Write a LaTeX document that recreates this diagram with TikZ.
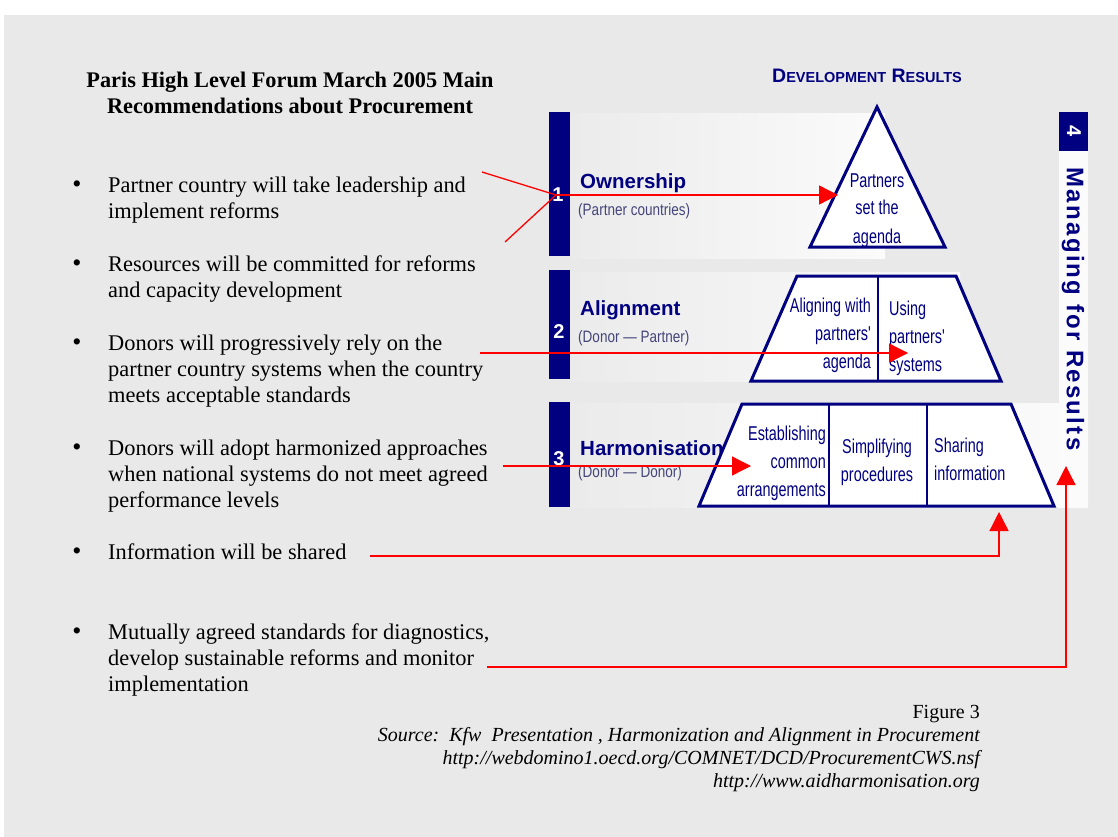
\documentclass[tikz,border=0pt]{standalone}
\usepackage{fontspec}
\setmainfont{Liberation Serif}
\newfontfamily\arialf{Liberation Sans}
\newfontfamily\narrowf[FakeStretch=0.82]{Liberation Sans}
\newfontfamily\cellf[FakeStretch=0.72]{Liberation Sans}
\newfontfamily\spacedf[LetterSpace=9.5]{Liberation Sans}
\usetikzlibrary{arrows.meta}
\definecolor{bg}{HTML}{E9E9E9}
\definecolor{navyc}{HTML}{000080}
\definecolor{subc}{HTML}{45457A}
\definecolor{redc}{HTML}{FF0000}
\definecolor{bandl}{HTML}{EBEBEB}
\definecolor{bandr}{HTML}{FBFBFB}
\newcommand{\lftlines}[1]{\begin{tabular}[t]{@{}l@{}}#1\end{tabular}}
\newcommand{\rgtlines}[1]{\begin{tabular}[t]{@{}r@{}}#1\end{tabular}}
\newcommand{\ctrlines}[1]{\begin{tabular}[t]{@{}c@{}}#1\end{tabular}}
\begin{document}
\begin{tikzpicture}[x=1pt,y=-1pt,
  body/.style={anchor=base west,inner sep=0pt,font=\fontsize{22.4}{26}\selectfont},
  bul/.style={anchor=base,inner sep=0pt,font=\fontsize{26}{26}\selectfont},
  src/.style={anchor=base east,inner sep=0pt,font=\fontsize{20}{23}\selectfont\itshape},
  lvl/.style={anchor=base west,inner sep=0pt,text=navyc,font=\arialf\bfseries\fontsize{20.5}{24}\selectfont},
  sublvl/.style={anchor=base west,inner sep=0pt,text=subc,font=\narrowf\fontsize{16.5}{20}\selectfont},
  num/.style={anchor=base,inner sep=0pt,text=white,font=\arialf\bfseries\fontsize{20}{24}\selectfont},
  cell/.style={inner sep=0pt,text=navyc,font=\cellf\fontsize{20}{28}\selectfont},
  pyr/.style={draw=navyc,line width=3pt,fill=white,line join=miter},
  divthin/.style={draw=navyc,line width=1.6pt},
  divthick/.style={draw=navyc,line width=2.6pt},
  arr/.style={draw=redc,line width=1.3pt,-{Triangle[length=19pt,width=19pt]}},
  rline/.style={draw=redc,line width=1.3pt}]
\useasboundingbox (0,0) rectangle (1118,837);
\fill[bg] (4,15) rectangle (1118,837);

% title
\node (title) [anchor=base,inner sep=0pt,font=\bfseries\fontsize{22.3}{26}\selectfont] at (290,88)
  {\ctrlines{Paris High Level Forum March 2005 Main\\Recommendations about Procurement}};

% bullets
\node (d1) [bul] at (77,193) {\textbullet};
\node (t1) [body] at (108,193) {\lftlines{Partner country will take leadership and\\implement reforms}};
\node (d2) [bul] at (77,271) {\textbullet};
\node (t2) [body] at (108,271) {\lftlines{Resources will be committed for reforms\\and capacity development}};
\node (d3) [bul] at (77,350) {\textbullet};
\node (t3) [body] at (108,350) {\lftlines{Donors will progressively rely on the\\partner country systems when the country\\meets acceptable standards}};
\node (d4) [bul] at (77,455) {\textbullet};
\node (t4) [body] at (108,455) {\lftlines{Donors will adopt harmonized approaches\\when national systems do not meet agreed\\performance levels}};
\node (d5) [bul] at (77,559) {\textbullet};
\node (t5) [body] at (108,559) {Information will be shared};
\node (d6) [bul] at (77,639) {\textbullet};
\node (t6) [body] at (108,639) {\lftlines{Mutually agreed standards for diagnostics,\\develop sustainable reforms and monitor\\implementation}};

% source
\node (fig) [anchor=base east,inner sep=0pt,font=\fontsize{20}{23}\selectfont] at (980,718) {Figure 3};
\node (src) [src] at (980,741) {\rgtlines{Source:\ \ Kfw\ \ Presentation , Harmonization and Alignment in Procurement\\http://webdomino1.oecd.org/COMNET/DCD/ProcurementCWS.nsf\\http://www.aidharmonisation.org}};

% header
\node (dev) [anchor=base,inner sep=0pt,text=navyc,font=\arialf\bfseries\fontsize{19.5}{22}\selectfont] at (867,83)
  {D{\fontsize{14.5}{16}\selectfont EVELOPMENT} R{\fontsize{14.5}{16}\selectfont ESULTS}};

% bands
\shade[left color=bandl,right color=bandr] (570,114) rectangle (885,258);
\shade[left color=bandl,right color=bandr] (570,272) rectangle (960,381);
\shade[left color=bandl,right color=bandr] (570,403) rectangle (1088,507);
\fill[bandr] (1059,112) rectangle (1088,508);
\fill[navyc] (549,112) rectangle (570,256);
\fill[navyc] (549,270) rectangle (570,379);
\fill[navyc] (549,402) rectangle (570,507);
\fill[navyc] (1059,112) rectangle (1088,151);

\node (n1) [num] at (558,201) {1};
\node (n2) [num] at (559,338) {2};
\node (n3) [num] at (559,465) {3};
\node (n4) [num,anchor=center,rotate=-90] at (1074,131) {4};
\node (mfr) [inner sep=0pt,text=navyc,rotate=-90,font=\spacedf\bfseries\fontsize{24}{26}\selectfont] at (1073,309) {Managing for Results};

\node (own) [lvl] at (580,189) {Ownership};
\node (ownsub) [sublvl] at (578,215) {(Partner countries)};
\node (ali) [lvl] at (580,315) {Alignment};
\node (alisub) [sublvl] at (578,342) {(Donor — Partner)};
\node (har) [lvl] at (580,455) {Harmonisation};
\node (harsub) [sublvl] at (578,477) {(Donor — Donor)};

% pyramid
\draw[pyr] (877,107) -- (945,247) -- (810,247) -- cycle;
\draw[pyr] (797,276) -- (956,276) -- (1001,381) -- (751,381) -- cycle;
\draw[divthin] (878,276) -- (878,381);
\draw[pyr] (742,404) -- (1011,404) -- (1054,506) -- (699,506) -- cycle;
\draw[divthick] (829,404) -- (829,506);
\draw[divthin] (927,404) -- (927,506);

\node (c1) [cell,anchor=base] at (877,187) {\ctrlines{Partners\\set the\\agenda}};
\node (c2a) [cell,anchor=base east] at (871,312) {\rgtlines{Aligning with\\partners'\\agenda}};
\node (c2b) [cell,anchor=base west] at (889,315) {\lftlines{Using\\partners'\\systems}};
\node (c3a) [cell,anchor=base east] at (826,440) {\rgtlines{Establishing\\common\\arrangements}};
\node (c3b) [cell,anchor=base] at (877,453) {\ctrlines{Simplifying\\procedures}};
\node (c3c) [cell,anchor=base west] at (934,452) {\lftlines{Sharing\\information}};

% arrows
\coordinate (a1u) at (482,172);
\coordinate (a1l) at (505,242);
\coordinate (a1j) at (556,195);
\coordinate (a1t) at (838,195);
\coordinate (a2s) at (480,353);
\coordinate (a2t) at (908,353);
\coordinate (a3s) at (503,466);
\coordinate (a3t) at (751,466);
\coordinate (a4s) at (370,556);
\coordinate (a4c) at (999,556);
\coordinate (a4t) at (999,512);
\coordinate (a5s) at (487,667);
\coordinate (a5c) at (1066,667);
\coordinate (a5t) at (1066,466);
\draw[rline] (a1u) -- (a1j);
\draw[rline] (a1l) -- (a1j);
\draw[arr] (a1j) -- (a1t);
\draw[arr] (a2s) -- (a2t);
\draw[arr] (a3s) -- (a3t);
\draw[arr] (a4s) -- (a4c) -- (a4t);
\draw[arr] (a5s) -- (a5c) -- (a5t);
\end{tikzpicture}
\end{document}
